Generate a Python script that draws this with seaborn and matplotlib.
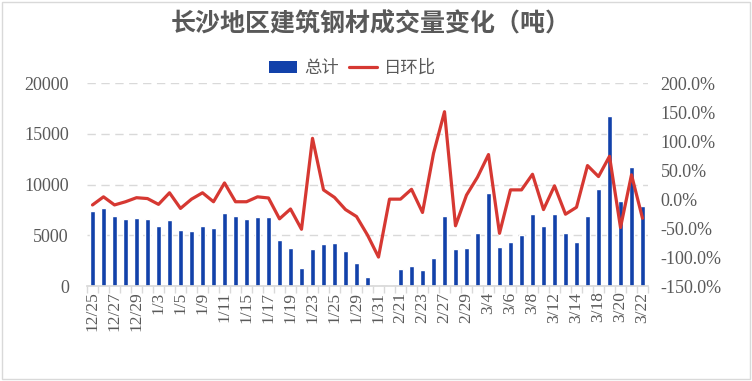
import numpy as np
import pandas as pd
import seaborn as sns
import matplotlib.pyplot as plt
from matplotlib.patches import Patch, Rectangle
from matplotlib.lines import Line2D

dates = ["12/25", "12/26", "12/27", "12/28", "12/29", "1/2", "1/3", "1/4", "1/5", "1/8",
         "1/9", "1/10", "1/11", "1/12", "1/15", "1/16", "1/17", "1/18", "1/19", "1/22",
         "1/23", "1/24", "1/25", "1/26", "1/29", "1/30", "1/31", "2/20", "2/21", "2/22",
         "2/23", "2/26", "2/27", "2/28", "2/29", "3/1", "3/4", "3/5", "3/6", "3/7",
         "3/8", "3/11", "3/12", "3/13", "3/14", "3/15", "3/18", "3/19", "3/20", "3/21",
         "3/22"]
totals = [7400, 7670, 6910, 6610, 6680, 6610, 5950, 6520, 5500, 5400,
          5950, 5720, 7200, 6910, 6610, 6840, 6840, 4540, 3720, 1780,
          3620, 4150, 4210, 3420, 2300, 860, 0, 0, 1680, 1970,
          1550, 2730, 6910, 3620, 3750, 5200, 9150, 3850, 4340, 5030,
          7110, 5890, 7080, 5200, 4340, 6910, 9610, 16750, 8390, 11750,
          7900]
ratio = [-10, 4, -10, -4.5, 2.5, 1, -9, 11, -16, 0,
         11, -4.5, 28, -4.5, -4.5, 4, 2, -34, -17, -52,
         105, 16, 3, -18, -30, -62, -100, 0, 0, 17,
         -23, 79, 151, -46, 7, 38, 77, -59, 16, 16,
         43, -18, 23, -26, -14, 58, 39, 74, -49, 42,
         -33]

df = pd.DataFrame({"date": dates, "total": totals, "ratio": ratio})
df["pos"] = np.arange(len(df))

sns.set_theme(style="white")
cjk = ["Noto Sans CJK SC", "DejaVu Sans"]
num_font = "Liberation Serif"
gray = "#595959"
bar_color = "#1241AA"
line_color = "#D63832"

fig = plt.figure(figsize=(7.52, 3.81), dpi=100)
ax = fig.add_axes([0.1157, 0.2493, 0.746, 0.532])

sns.barplot(data=df, x="date", y="total", color=bar_color, width=0.45,
            saturation=1, ax=ax)
ax.set_ylim(0, 20000)
ax.set_yticks([0, 5000, 10000, 15000, 20000])
ax.yaxis.grid(True, color="#D9D9D9", linestyle=(0, (6, 4)), linewidth=1)
ax.set_axisbelow(True)
ax.set_xlim(-0.5, len(df) - 0.5)
ax.set_xlabel("")
ax.set_ylabel("")

ax.set_xticks(df["pos"][::2])
ax.set_xticklabels(df["date"][::2], rotation=90, fontfamily=num_font,
                   fontsize=12.5, color=gray)
ax.set_xticks(np.arange(-0.5, len(df)), minor=True)
ax.tick_params(axis="x", which="major", length=0, pad=4)
ax.tick_params(axis="x", which="minor", length=5, color="#D9D9D9", width=1, bottom=True)
ax.tick_params(axis="y", length=0, pad=13)
for lab in ax.get_yticklabels():
    lab.set_fontfamily(num_font)
    lab.set_fontsize(13)
    lab.set_color(gray)

for s in ["left", "right", "top"]:
    ax.spines[s].set_visible(False)
ax.spines["bottom"].set_color("#D9D9D9")

ax2 = ax.twinx()
sns.lineplot(data=df, x="pos", y="ratio", color=line_color, linewidth=2.3, ax=ax2)
ax2.set_ylim(-150, 200)
ax2.set_yticks(np.arange(-150, 201, 50))
ax2.set_yticklabels([f"{v:.1f}%" for v in np.arange(-150, 201, 50)],
                    fontfamily=num_font, fontsize=13, color=gray)
ax2.tick_params(axis="y", length=0, pad=9)
ax2.set_xlabel("")
ax2.set_ylabel("")
ax2.grid(False)
for s in ax2.spines.values():
    s.set_visible(False)

fig.suptitle("长沙地区建筑钢材成交量变化（吨）", x=0.493, y=0.968,
             fontfamily=cjk, fontsize=18, fontweight="bold", color=gray)

handles = [Patch(facecolor=bar_color, edgecolor="none"),
           Line2D([0], [0], color=line_color, linewidth=2.3)]
fig.legend(handles, ["总计", "日环比"], loc="center", bbox_to_anchor=(0.469, 0.822),
           ncol=2, frameon=False, handlelength=1.6, handletextpad=0.4,
           columnspacing=0.6, prop={"family": cjk, "size": 12.5}, labelcolor=gray)

fig.patches.append(Rectangle((0.002, 0.004), 0.996, 0.992, transform=fig.transFigure,
                             fill=False, edgecolor="#D9D9D9", linewidth=1))

fig.savefig("out.png", dpi=100)
